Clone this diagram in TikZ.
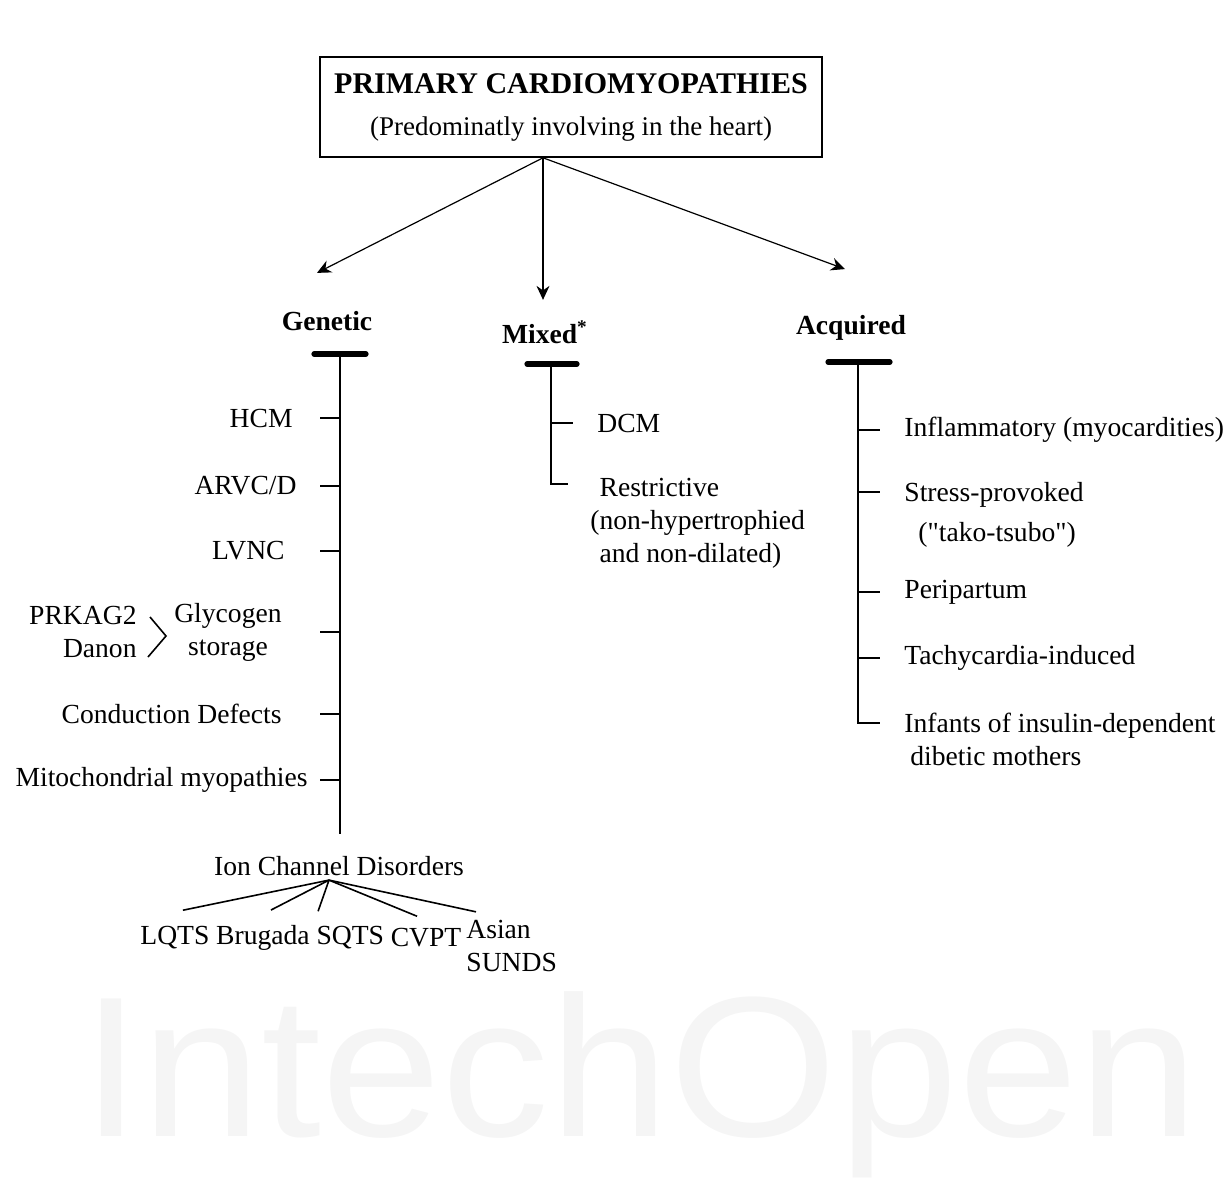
\documentclass[tikz,border=0pt]{standalone}
\usepackage{fontspec}
\setmainfont{Liberation Serif}
\newfontfamily\wmfont{Liberation Sans}
\usetikzlibrary{positioning,arrows.meta}

\tikzset{
  item/.style={inner sep=0pt, font=\fontsize{13.8}{16.5}\selectfont},
  head/.style={inner sep=0pt, font=\fontsize{13.8}{16.5}\selectfont\bfseries},
  arr/.style={line width=0.6pt, -{Stealth[length=7pt,width=6.5pt]}},
  bar/.style={line width=2.6pt, line cap=round},
  spine/.style={line width=0.8pt}
}

\begin{document}
\begin{tikzpicture}[x=0.5pt,y=-0.5pt]
  \useasboundingbox (0,0) rectangle (1226,1183);
  % watermark
  \node[text=black!4, font=\fontsize{100}{100}\selectfont\wmfont, xscale=1.08, transform shape]
    (wm) at (640,1085) {IntechOpen};

  % title box
  \node[draw, line width=0.8pt, minimum width=251pt, minimum height=50pt, align=center,
        inner sep=0pt, font=\fontsize{13.5}{21}\selectfont] (title) at (571,107)
        {{\fontsize{15}{21}\selectfont\bfseries PRIMARY CARDIOMYOPATHIES}\\(Predominatly involving in the heart)};
  \coordinate (src) at ([xshift=-14pt]title.south);

  % the three groups
  \node[head] (gen) at (327,321) {Genetic};
  \node[head] (mix) at (545,332) {Mixed\textsuperscript{*}};
  \node[head] (acq) at (851,328) {Acquired};
  \draw[arr] (src) -- ([shift={(-5pt,19pt)}]gen.north);
  \draw[arr] (src) -- ([shift={(-1pt,10pt)}]mix.north);
  \draw[arr] (src) -- ([shift={(-3pt,23pt)}]acq.north);

  \coordinate (gtop) at (340,354);
  \coordinate (mtop) at (551,364);
  \coordinate (atop) at (858,362);
  \draw[bar] ([xshift=-13pt]gtop) -- ([xshift=13pt]gtop);
  \draw[bar] ([xshift=-12pt]mtop) -- ([xshift=13pt]mtop);
  \draw[bar] ([xshift=-15pt]atop) -- ([xshift=16pt]atop);

  % genetic
  \node[item, anchor=east] (hcm) at (293,418) {HCM};
  \node[item, anchor=east] (arvc) at (297,486) {ARVC/D};
  \node[item, anchor=east] (lvnc) at (285,551) {LVNC};
  \node[item, anchor=east, align=center] (glyc) at (282,632) {Glycogen\\storage};
  \node[item, anchor=east, align=right] (prk) at (137,632) {PRKAG2\\Danon};
  \node[item, anchor=east] (cond) at (282,714) {Conduction Defects};
  \node[item, anchor=east] (mito) at (308,780) {Mitochondrial myopathies};
  \draw[spine] (150,617) -- (166,636) -- (148,657);
  \foreach \n in {hcm,arvc,lvnc,glyc,cond,mito}
    \draw[spine] (gtop |- \n) -- ++(-10pt,0);

  \node[item] (ion) at (339,866) {Ion Channel Disorders};
  \draw[spine] (gtop) -- ([yshift=11pt]ion.north -| gtop);
  \coordinate (ionj) at ([xshift=-5pt,yshift=-2pt]ion.south);
  \node[item, anchor=west] (lqts) at (140,938) {LQTS};
  \node[item, right=3pt of lqts] (brug) {Brugada};
  \node[item, right=3pt of brug] (sqts) {SQTS};
  \node[item, right=3pt of sqts] (cvpt) {CVPT};
  \node[item, anchor=west, align=left] (asian) at (466,946) {Asian\\SUNDS};
  \draw[spine] (ionj) -- ([shift={(4pt,8pt)}]lqts.north);
  \draw[spine] (ionj) -- ([shift={(4pt,7.5pt)}]brug.north);
  \draw[spine] (ionj) -- ([shift={(1pt,7.5pt)}]sqts.north west);
  \draw[spine] (ionj) -- ([shift={(-4.5pt,6pt)}]cvpt.north);
  \draw[spine] (ionj) -- ([shift={(5pt,4pt)}]asian.north west);

  % mixed
  \node[item, anchor=west] (dcm) at (597,423) {DCM};
  \node[item, anchor=north west, align=left] (restr) at (590,478)
    {\hphantom{(}Restrictive\\(non-hypertrophied\\\hphantom{(}and non-dilated)};
  \draw[spine] (mtop |- dcm) -- ++(11pt,0);
  \draw[spine] (mtop) -- ([yshift=-3pt]restr.north west -| mtop) -- ++(8.5pt,0);

  % acquired
  \node[item, anchor=west] (infl) at (904,430) {Inflammatory (myocardities)};
  \node[item, anchor=north west, align=left] (stress) at (904,482)
    {Stress-provoked\\[3.5pt]\hspace*{7pt}(\textquotedbl tako-tsubo\textquotedbl)};
  \node[item, anchor=west] (peri) at (904,592) {Peripartum};
  \node[item, anchor=west] (tachy) at (904,658) {Tachycardia-induced};
  \node[item, anchor=north west, align=left] (inf) at (904,713)
    {Infants of insulin-dependent\\\hspace*{3pt}dibetic mothers};
  \foreach \n in {infl,peri,tachy}
    \draw[spine] (atop |- \n) -- ++(11pt,0);
  \draw[spine] ([yshift=-5pt]stress.north west -| atop) -- ++(11pt,0);
  \draw[spine] (atop) -- ([yshift=-5pt]inf.north west -| atop) -- ++(11pt,0);
\end{tikzpicture}
\end{document}
